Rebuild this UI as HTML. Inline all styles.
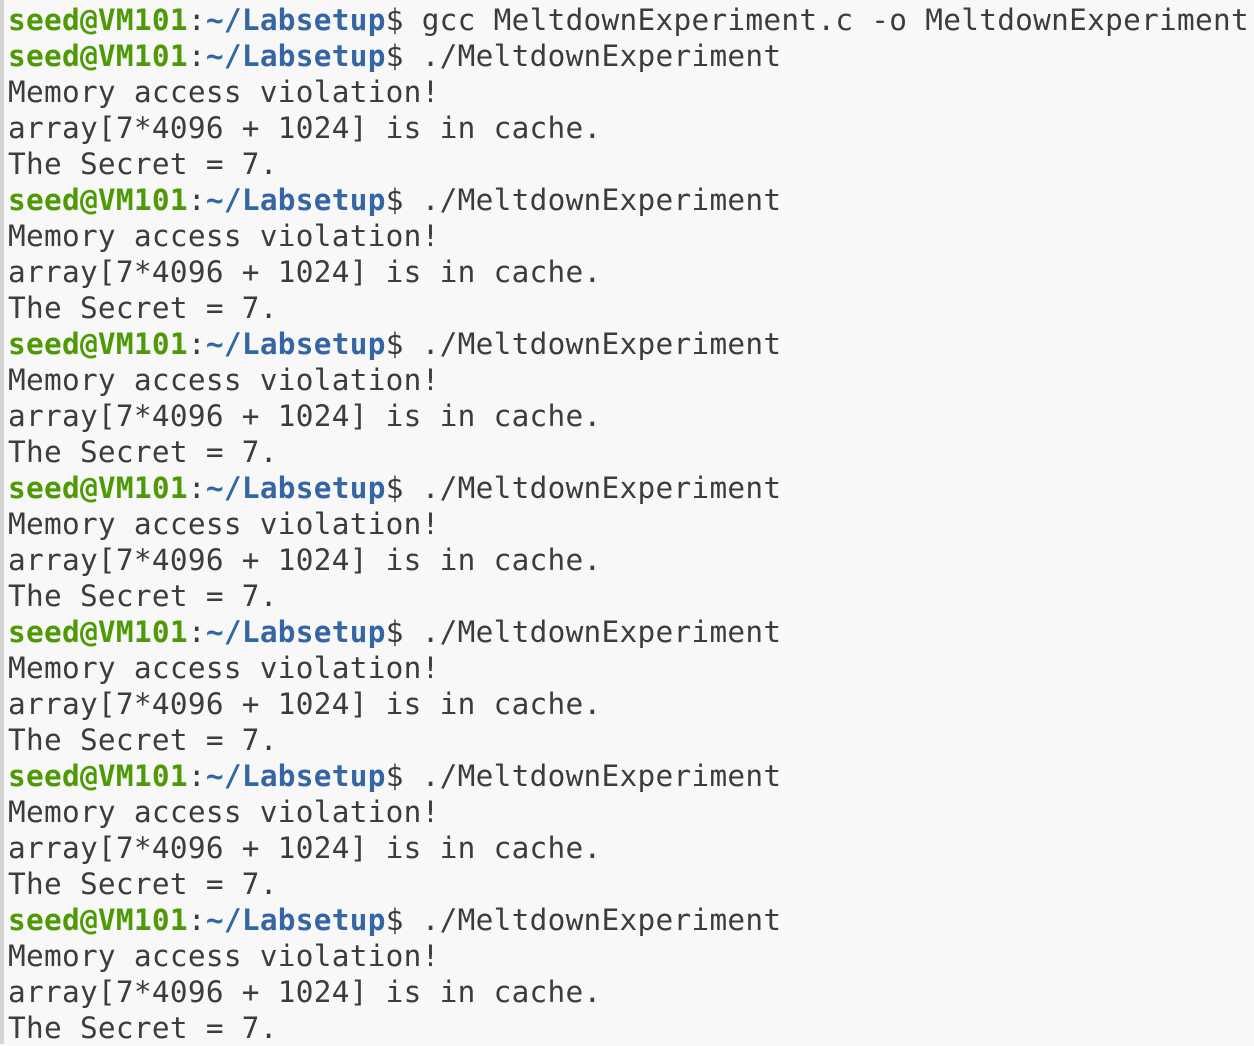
<!DOCTYPE html>
<html><head><style>
html,body{margin:0;padding:0;width:1254px;height:1044px;overflow:hidden;background:#f8f8f8;}
.bar{position:absolute;left:0;top:0;width:4px;height:1044px;background:#d4d4d4;}
pre{position:absolute;left:8px;top:2px;margin:0;font-family:"DejaVu Sans Mono","Liberation Mono",monospace;font-size:29.4px;letter-spacing:0.29px;line-height:36px;color:#3c3c3c;white-space:pre;}
.g{color:#4e9a06;font-weight:bold}.b{color:#3465a4;font-weight:bold}
</style></head><body><div class="bar"></div>
<pre><span class="g">seed@VM101</span>:<span class="b">~/Labsetup</span>$ gcc MeltdownExperiment.c -o MeltdownExperiment
<span class="g">seed@VM101</span>:<span class="b">~/Labsetup</span>$ ./MeltdownExperiment
Memory access violation!
array[7*4096 + 1024] is in cache.
The Secret = 7.
<span class="g">seed@VM101</span>:<span class="b">~/Labsetup</span>$ ./MeltdownExperiment
Memory access violation!
array[7*4096 + 1024] is in cache.
The Secret = 7.
<span class="g">seed@VM101</span>:<span class="b">~/Labsetup</span>$ ./MeltdownExperiment
Memory access violation!
array[7*4096 + 1024] is in cache.
The Secret = 7.
<span class="g">seed@VM101</span>:<span class="b">~/Labsetup</span>$ ./MeltdownExperiment
Memory access violation!
array[7*4096 + 1024] is in cache.
The Secret = 7.
<span class="g">seed@VM101</span>:<span class="b">~/Labsetup</span>$ ./MeltdownExperiment
Memory access violation!
array[7*4096 + 1024] is in cache.
The Secret = 7.
<span class="g">seed@VM101</span>:<span class="b">~/Labsetup</span>$ ./MeltdownExperiment
Memory access violation!
array[7*4096 + 1024] is in cache.
The Secret = 7.
<span class="g">seed@VM101</span>:<span class="b">~/Labsetup</span>$ ./MeltdownExperiment
Memory access violation!
array[7*4096 + 1024] is in cache.
The Secret = 7.</pre>
</body></html>
